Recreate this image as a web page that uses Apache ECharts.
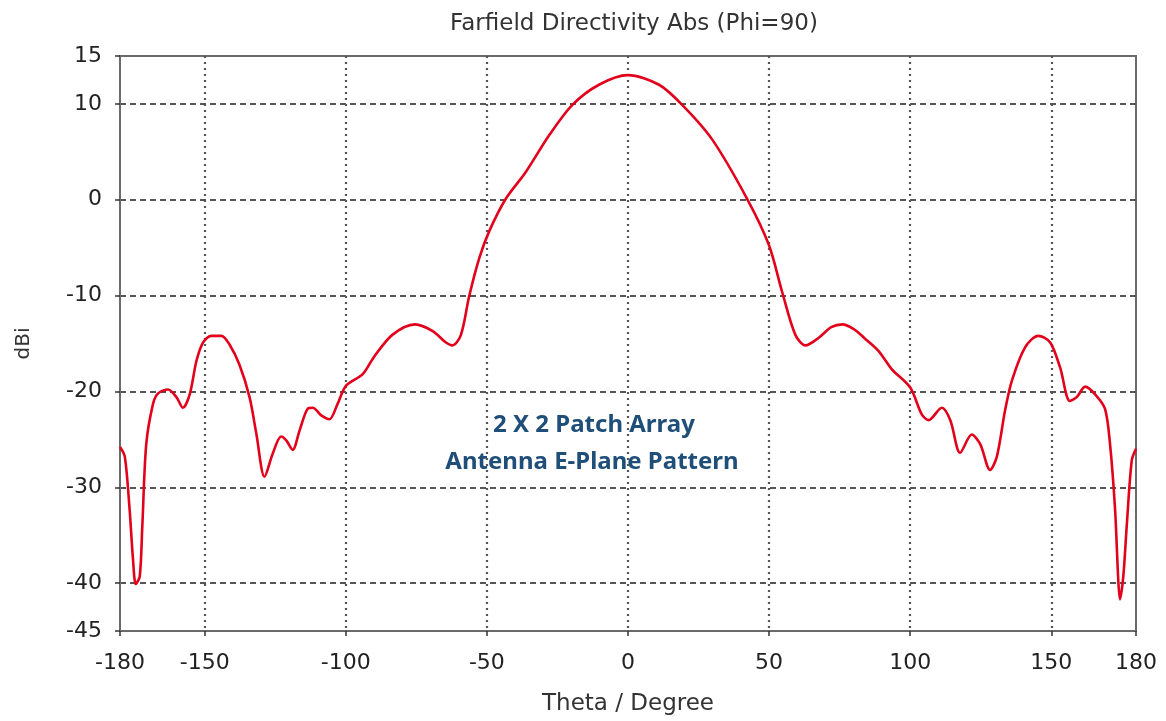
<!DOCTYPE html>
<html>
<head>
<meta charset="utf-8">
<script src="https://cdn.jsdelivr.net/npm/echarts@6/dist/echarts.min.js"></script>
<style>html,body{margin:0;padding:0;background:#fff}#c{width:1166px;height:721px}</style>
</head>
<body>
<div id="c"></div>
<script>
const thetaDeg = [-180,-178.3,-176.6,-175.4,-174.4,-173,-172.1,-170.7,-168.3,-166.5,-163,-160,-157.7,-155.3,-152.9,-150.6,-147.7,-144.1,-141.2,-137.7,-134.1,-131.7,-128.8,-125.9,-122.9,-121.1,-118.8,-116.4,-113.5,-111.7,-108.7,-105.8,-102.9,-99.9,-94,-90,-83.5,-75.5,-69.2,-64.5,-62.2,-59.2,-56.3,-52.7,-49.2,-43.3,-36.2,-28,-19.7,-10.3,0,11,19.2,29.8,42.2,49.9,54.6,59.3,62.9,67.6,72,76,80,84,88.8,93.5,100,104.1,106.5,111.2,114.2,117.7,121.8,124.8,128.3,130.7,133.6,136,140.7,145.4,149.6,153.1,156.6,159,162,165.5,169,170.8,172.6,173.7,174.3,175.5,176.7,178.5,180];
const directivityDbi = [-25.8,-26.8,-32.3,-37.5,-40.1,-39.3,-34.1,-25.5,-21.3,-20.2,-19.8,-20.6,-21.7,-20.3,-16.8,-14.9,-14.2,-14.2,-15.1,-17.2,-20.6,-24.4,-28.9,-26.5,-24.7,-25.1,-26.1,-24.1,-21.8,-21.7,-22.5,-22.9,-21.3,-19.4,-18.2,-16.4,-14.1,-13.0,-13.7,-14.9,-15.2,-14.1,-10.1,-6.1,-3.3,0.1,2.9,6.7,9.9,12.0,13.0,12.0,9.9,6.3,0.1,-4.7,-9.6,-14.1,-15.2,-14.4,-13.3,-13.0,-13.5,-14.5,-15.8,-17.7,-19.6,-22.4,-23.0,-21.7,-23.0,-26.4,-24.5,-25.5,-28.2,-26.8,-22.0,-18.9,-15.4,-14.2,-14.9,-17.5,-21.0,-20.6,-19.5,-20.3,-21.8,-25.5,-32.4,-39.6,-41.7,-39.3,-34.1,-27.2,-26.0];
const xTickValues = [-180,-150,-100,-50,0,50,100,150,180];
const yTickValues = [-45,-40,-30,-20,-10,0,10,15];
const titleText = 'Farfield Directivity Abs (Phi=90)';
const xAxisName = 'Theta / Degree';
const yAxisName = 'dBi';
const noteLines = ['2 X 2 Patch Array', 'Antenna E-Plane Pattern'];

const chart = echarts.init(document.getElementById('c'));
const seriesData = thetaDeg.map((t, i) => [t, directivityDbi[i]]);
const axisFont = {fontFamily: 'DejaVu Sans', fontSize: 22, color: '#222'};
const gridGray = '#555';
chart.setOption({
  backgroundColor: '#fff',
  animation: false,
  title: {
    text: titleText, left: 629, top: 8, textAlign: 'center',
    textStyle: {fontFamily: 'DejaVu Sans', fontSize: 23, fontWeight: 'normal', color: '#333'}
  },
  grid: {left: 120, right: 30, top: 56, bottom: 85, show: true, borderColor: '#6a6a6a', borderWidth: 2, backgroundColor: 'transparent'},
  xAxis: {
    type: 'value', min: -180, max: 180,
    name: xAxisName, nameLocation: 'middle', nameGap: 62,
    nameTextStyle: {fontFamily: 'DejaVu Sans', fontSize: 23, color: '#333'},
    axisLine: {show: true, onZero: false, lineStyle: {color: '#6a6a6a', width: 2}},
    axisTick: {show: true, customValues: xTickValues, length: 5, lineStyle: {color: '#333', width: 1.5}},
    axisLabel: {customValues: xTickValues, margin: 21, ...axisFont},
    splitLine: {show: true, showMinLine: false, showMaxLine: false, lineStyle: {color: gridGray, width: 2.2, type: [2, 4]}}
  },
  yAxis: {
    type: 'value', min: -45, max: 15,
    name: yAxisName, nameLocation: 'middle', nameGap: 86, nameRotate: 90,
    nameTextStyle: {fontFamily: 'DejaVu Sans', fontSize: 20, color: '#333'},
    axisLine: {show: true, onZero: false, lineStyle: {color: '#6a6a6a', width: 2}},
    axisTick: {show: true, customValues: yTickValues, length: 5, lineStyle: {color: '#333', width: 1.5}},
    axisLabel: {customValues: yTickValues, margin: 18, ...axisFont},
    splitLine: {show: true, showMinLine: false, showMaxLine: false, lineStyle: {color: gridGray, width: 2, type: [6, 4]}}
  },
  series: [{
    type: 'line', data: seriesData, smooth: 0.3, showSymbol: false,
    lineStyle: {color: '#e3001b', width: 2.6}
  }],
  graphic: [{
    type: 'text', x: 594, y: 425,
    style: {text: noteLines[0], align: 'center', verticalAlign: 'middle', fill: '#1f4e79', font: 'bold 24px "Noto Sans"'}
  }, {
    type: 'text', x: 592, y: 462,
    style: {text: noteLines[1], align: 'center', verticalAlign: 'middle', fill: '#1f4e79', font: 'bold 24px "Noto Sans"'}
  }]
});
</script>
</body>
</html>
